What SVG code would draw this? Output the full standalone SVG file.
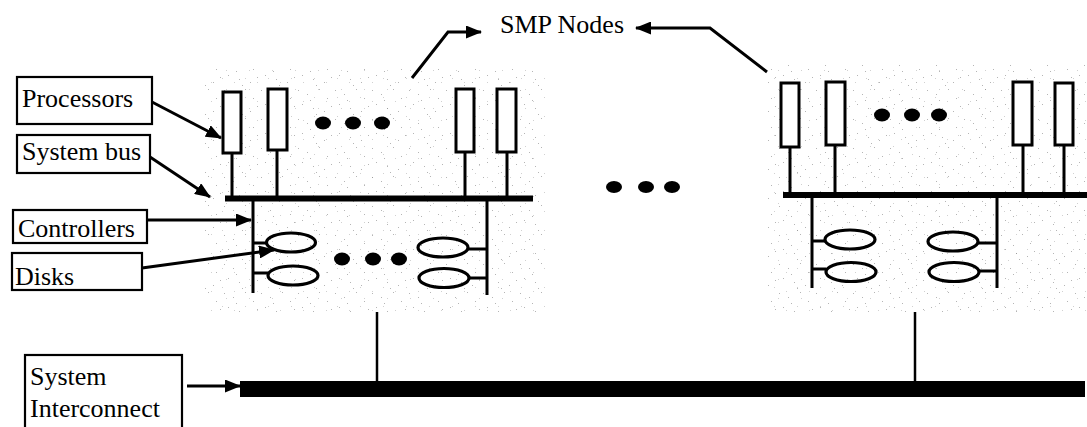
<svg xmlns="http://www.w3.org/2000/svg" width="1087" height="427" viewBox="0 0 1087 427">
<style>
.lbl{font-family:"Liberation Serif","Times New Roman",serif;font-size:26px;fill:#000}
.box{fill:#fff;stroke:#000;stroke-width:2.2}
.proc{fill:#fff;stroke:#000;stroke-width:3}
.ln{stroke:#000;stroke-width:3;fill:none}
.bus{stroke:#000;stroke-width:6}
.disk{fill:none;stroke:#000;stroke-width:3.2}
.arr{stroke:#000;stroke-width:3;fill:none;marker-end:url(#ah)}
</style>
<defs>
<marker id="ah" markerUnits="userSpaceOnUse" markerWidth="16" markerHeight="13" refX="15" refY="6.5" orient="auto">
<path d="M0,0 L16,6.5 L0,13 z" fill="#000"/>
</marker>
<pattern id="st" width="37" height="29" patternUnits="userSpaceOnUse">
<g fill="#444" opacity="0.4">
<rect x="2" y="3" width="1" height="1"/><rect x="11" y="7" width="1" height="1"/><rect x="23" y="2" width="1" height="1"/>
<rect x="31" y="11" width="1" height="1"/><rect x="6" y="17" width="1" height="1"/><rect x="17" y="21" width="1" height="1"/>
<rect x="28" y="24" width="1" height="1"/><rect x="35" y="19" width="1" height="1"/><rect x="14" y="13" width="1" height="1"/>
<rect x="20" y="27" width="1" height="1"/>
</g>
</pattern>
<pattern id="st2" width="23" height="19" patternUnits="userSpaceOnUse">
<g fill="#666" opacity="0.3">
<rect x="4" y="6" width="1" height="1"/><rect x="15" y="2" width="1" height="1"/><rect x="19" y="13" width="1" height="1"/>
</g>
</pattern>
</defs>
<rect width="1087" height="427" fill="#fff"/>

<g id="node-left">
<rect x="205" y="68" width="340" height="246" fill="url(#st)"/>
<rect x="205" y="68" width="340" height="246" fill="url(#st2)"/>
<line class="ln" x1="232" y1="153" x2="232" y2="198"/>
<line class="ln" x1="277" y1="150" x2="277" y2="198"/>
<line class="ln" x1="465" y1="152" x2="465" y2="198"/>
<line class="ln" x1="507" y1="152" x2="507" y2="198"/>
<rect class="proc" x="223" y="92" width="18" height="61"/>
<rect class="proc" x="268" y="89" width="19" height="61"/>
<rect class="proc" x="456" y="89" width="18" height="63"/>
<rect class="proc" x="497" y="89" width="19" height="63"/>
<ellipse cx="323" cy="123" rx="8" ry="6.5"/>
<ellipse cx="353" cy="123" rx="8" ry="6.5"/>
<ellipse cx="382" cy="123" rx="8" ry="6.5"/>
<line class="bus" x1="225" y1="198.5" x2="533" y2="198.5"/>
<line class="ln" x1="253" y1="198" x2="253" y2="293"/>
<line class="ln" x1="487" y1="198" x2="487" y2="295"/>
<line class="ln" x1="253" y1="243" x2="267" y2="243"/>
<line class="ln" x1="253" y1="273" x2="268" y2="273"/>
<line class="ln" x1="468" y1="249" x2="487" y2="249"/>
<line class="ln" x1="469" y1="278" x2="487" y2="278"/>
<ellipse class="disk" cx="291" cy="242.5" rx="24.5" ry="9.5"/>
<ellipse class="disk" cx="293" cy="275.5" rx="25" ry="9.5"/>
<ellipse class="disk" cx="443" cy="247.5" rx="25" ry="9.5"/>
<ellipse class="disk" cx="444" cy="278" rx="25" ry="9.5"/>
<ellipse cx="342" cy="259" rx="8" ry="6.5"/>
<ellipse cx="373" cy="259" rx="8" ry="6.5"/>
<ellipse cx="399" cy="259" rx="8" ry="6.5"/>
</g>

<g id="node-right">
<rect x="765" y="65" width="322" height="249" fill="url(#st)"/>
<rect x="765" y="65" width="322" height="249" fill="url(#st2)"/>
<line class="ln" x1="790" y1="147" x2="790" y2="195"/>
<line class="ln" x1="835" y1="145" x2="835" y2="195"/>
<line class="ln" x1="1023" y1="145" x2="1023" y2="195"/>
<line class="ln" x1="1064" y1="145" x2="1064" y2="192"/>
<rect class="proc" x="781" y="83" width="18" height="64"/>
<rect class="proc" x="826" y="82" width="19" height="63"/>
<rect class="proc" x="1013" y="82" width="19" height="63"/>
<rect class="proc" x="1055" y="83" width="18" height="62"/>
<ellipse cx="882" cy="115" rx="8" ry="6.5"/>
<ellipse cx="912" cy="115" rx="8" ry="6.5"/>
<ellipse cx="939" cy="115" rx="8" ry="6.5"/>
<line class="bus" x1="783" y1="195" x2="1087" y2="195"/>
<line class="ln" x1="812" y1="195" x2="812" y2="288"/>
<line class="ln" x1="997" y1="195" x2="997" y2="288"/>
<line class="ln" x1="812" y1="241" x2="825" y2="241"/>
<line class="ln" x1="812" y1="269" x2="826" y2="269"/>
<line class="ln" x1="978" y1="243" x2="997" y2="243"/>
<line class="ln" x1="979" y1="271" x2="997" y2="271"/>
<ellipse class="disk" cx="850" cy="239.5" rx="25" ry="9.5"/>
<ellipse class="disk" cx="851" cy="272" rx="25" ry="9.5"/>
<ellipse class="disk" cx="953" cy="241.5" rx="25" ry="9.5"/>
<ellipse class="disk" cx="954" cy="272" rx="25" ry="9.5"/>
</g>

<g id="ellipsis-between">
<ellipse cx="614" cy="187" rx="8" ry="6"/>
<ellipse cx="646" cy="187" rx="8" ry="6"/>
<ellipse cx="672" cy="187" rx="8" ry="6"/>
</g>

<g id="interconnect">
<rect x="240" y="381" width="845" height="16" fill="#000"/>
</g>

<g id="lbl-smp"><text class="lbl" x="500" y="33">SMP Nodes</text></g>
<g id="lbl-processors"><rect class="box" x="17" y="77" width="135" height="47"/><text class="lbl" x="22" y="107">Processors</text></g>
<g id="lbl-sysbus"><rect class="box" x="17" y="135" width="133" height="38"/><text class="lbl" x="22" y="160">System bus</text></g>
<g id="lbl-controllers"><rect class="box" x="13" y="210" width="134" height="33"/><text class="lbl" x="18" y="237">Controllers</text></g>
<g id="lbl-disks"><rect class="box" x="12" y="253" width="130" height="37"/><text class="lbl" x="15" y="285">Disks</text></g>
<g id="lbl-interconnect"><rect class="box" x="25" y="355" width="157" height="80"/><text class="lbl" x="30" y="385">System</text><text class="lbl" x="30" y="417">Interconnect</text></g>

<g id="connectors">
<line class="ln" x1="377" y1="312" x2="377" y2="382" style="stroke-width:2.5"/>
<line class="ln" x1="915" y1="312" x2="915" y2="382" style="stroke-width:2.5"/>
<line class="arr" x1="152" y1="102" x2="221" y2="138"/>
<line class="arr" x1="150" y1="157" x2="210" y2="197"/>
<line class="arr" x1="147" y1="220" x2="251" y2="220"/>
<line class="arr" x1="142" y1="268" x2="274" y2="250"/>
<line class="arr" x1="187" y1="386" x2="240" y2="386"/>
<polyline class="arr" points="412,78 448,32 481,32"/>
<polyline class="arr" points="767,72 710,28 636,28"/>
</g>
</svg>
